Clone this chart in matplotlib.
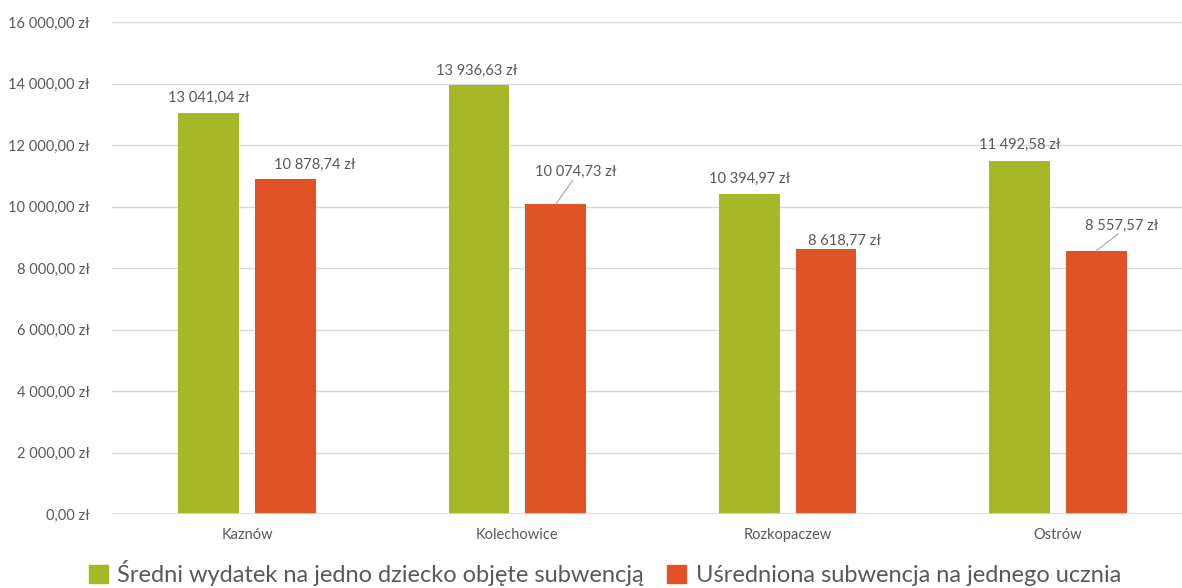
import matplotlib
matplotlib.use("Agg")
import matplotlib.pyplot as plt
import numpy as np

plt.rcParams['font.family'] = ['Lato', 'DejaVu Sans']

categories = ["Kaznów", "Kolechowice", "Rozkopaczew", "Ostrów"]
series_names = ["Średni wydatek na jedno dziecko objęte subwencją",
                "Uśredniona subwencja na jednego ucznia"]
wydatek = [13041.04, 13936.63, 10394.97, 11492.58]
subwencja = [10878.74, 10074.73, 8618.77, 8557.57]
y_ticks = [0, 2000, 4000, 6000, 8000, 10000, 12000, 14000, 16000]

GREEN = "#A6B828"
RED = "#E05327"
TXT = "#595959"
GRID = "#D9D9D9"

def fmt(v):
    s = f"{v:,.2f}"
    s = s.replace(",", " ").replace(".", ",")
    return s + " zł"

W, H = 1182, 588
fig = plt.figure(figsize=(W / 100, H / 100), dpi=100)
left, right, bottom, top = 112, 1193, 588 - 514, 588 - 22
ax = fig.add_axes([left / W, bottom / H, (right - left) / W, (top - bottom) / H])

x = np.arange(len(categories))
bw = 0.225
off = 0.142
b1 = ax.bar(x - off, wydatek, bw, color=GREEN, zorder=3)
b2 = ax.bar(x + off, subwencja, bw, color=RED, zorder=3)

ax.set_xlim(-0.5, len(categories) - 0.5)
ax.set_ylim(0, 16000)
ax.set_yticks(y_ticks)
ax.set_yticklabels([fmt(v) for v in y_ticks])
ax.set_xticks(x)
ax.set_xticklabels(categories)
ax.tick_params(axis='both', length=0, colors=TXT, labelsize=10.5)
ax.tick_params(axis='y', pad=16)
ax.tick_params(axis='x', pad=10)
ax.grid(axis='y', color=GRID, linewidth=1, zorder=0)
for s in ax.spines.values():
    s.set_visible(False)
ax.axhline(0, color=GRID, linewidth=1.2, zorder=4)

# label offsets in pixels (dx, dy) relative to bar top centre; leader flag
green_off = [(0, 15, False), (-2, 15, False), (0, 15, False), (0, 16, False)]
red_off = [(29, 15, False), (20, 32, True), (18, 8, False), (25, 25, True)]

for bars, vals, offs in [(b1, wydatek, green_off), (b2, subwencja, red_off)]:
    for bar, v, (dx, dy, lead) in zip(bars, vals, offs):
        xc = bar.get_x() + bar.get_width() / 2
        ax.annotate(fmt(v), (xc, v), xytext=(dx, dy), textcoords='offset pixels',
                    ha='center', va='center', color=TXT, fontsize=10.5, zorder=5)
        if lead:
            ax.annotate("", (xc, v), xytext=(dx - 3, dy - 8), textcoords='offset pixels',
                        arrowprops=dict(arrowstyle='-', color="#A6A6A6", lw=0.8,
                                        shrinkA=0, shrinkB=0), zorder=5)

handles = [plt.Rectangle((0, 0), 1, 1, color=GREEN), plt.Rectangle((0, 0), 1, 1, color=RED)]
fig.legend(handles, series_names, loc='center', bbox_to_anchor=(605 / W, 1 - 573 / H),
           ncol=2, frameon=False, fontsize=17, labelcolor=TXT, handlelength=0.8,
           handleheight=0.8, handletextpad=0.4, columnspacing=1.0)

fig.savefig("out.png", dpi=100)
